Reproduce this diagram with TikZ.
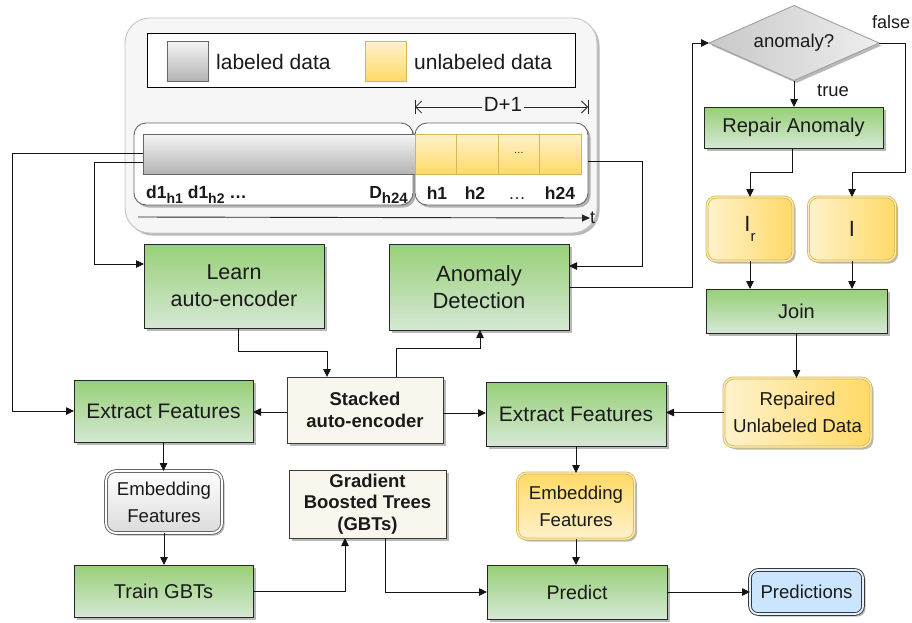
\documentclass[tikz,border=0pt]{standalone}
\usepackage{fontspec}
\setmainfont{Liberation Sans}
\usetikzlibrary{arrows.meta,shapes.geometric,shadows,calc}

\definecolor{txtc}{HTML}{1A1A1A}
\definecolor{grnT}{HTML}{97D077}
\definecolor{grnB}{HTML}{D5E8D4}
\definecolor{yelL}{HTML}{FFF2CC}
\definecolor{yelR}{HTML}{FFD966}
\definecolor{yelS}{HTML}{D6B656}
\definecolor{crmF}{HTML}{F9F7ED}
\definecolor{crmS}{HTML}{36393D}
\definecolor{bluF}{HTML}{CCE5FF}
\definecolor{gryT}{HTML}{F5F5F5}
\definecolor{gryB}{HTML}{B3B3B3}
\definecolor{gryS}{HTML}{666666}
\definecolor{contF}{HTML}{F6F6F6}
\definecolor{contS}{HTML}{C4C4C4}
\definecolor{diaL}{HTML}{C8C8C8}
\definecolor{diaR}{HTML}{EEEEEE}
\definecolor{diaS}{HTML}{A0A0A0}

\newcommand\setfs[2]{\fontsize{#1}{#2}\selectfont}
\newcommand\lsub[2][14]{\raisebox{-0.32em}{\setfs{#1}{#1}#2}}
\newcommand\lowsub[2][15]{\raisebox{-0.42em}{\setfs{#1}{#1}#2}}

\begin{document}
\begin{tikzpicture}[x=1pt,y=-1pt,
  shad/.style={drop shadow={shadow xshift=2.5pt,shadow yshift=-2.5pt,opacity=0.28,fill=black}},
  base/.style={inner sep=0pt, outer sep=0pt, align=center, text=txtc, line width=0.9pt},
  grnbox/.style={base, shad, draw=black!85, top color=grnT, bottom color=grnB},
  glass/.style={double=white!55!yelR, double distance=1.3pt, line width=0.8pt},
  yelbox/.style={base, shad, draw=yelS, rounded corners=9pt, left color=yelL, right color=yelR, glass},
  crmbox/.style={base, shad, draw=crmS, fill=crmF, font=\bfseries\setfs{18.5}{21.5}},
  inbox/.style={base, shad, draw=gryS, fill=white, rounded corners=12pt},
  graycell/.style={base, draw=gryS, line width=0.7pt, top color=gryT, bottom color=gryB},
  yelcell/.style={base, draw=yelS, line width=0.7pt, top color=yelL, bottom color=yelR},
  barlbl/.style={inner sep=0pt, anchor=base, text=txtc, font=\bfseries\setfs{17.5}{20}},
  arr/.style={line width=0.85pt, draw=black!92, -{Triangle[length=8pt,width=7.5pt]}},
]
\useasboundingbox (0,0) rectangle (912,622);

% ---- data panel ----
\node[base, shad, draw=contS, fill=contF, rounded corners=25pt,
      minimum width=472pt, minimum height=215pt] (panel) at (361,125.5) {};
\node[base, draw=black, fill=white, minimum width=428pt, minimum height=54pt] (legend) at (361,60) {};
\node[graycell, minimum width=41pt, minimum height=40pt] (lgray) at (187.5,61) {};
\node[inner sep=0pt, anchor=west, text=txtc, font=\setfs{21}{24}] (lgtxt) at (216,62) {labeled data};
\node[yelcell, minimum width=41pt, minimum height=40pt] (lyel) at (385.5,61) {};
\node[inner sep=0pt, anchor=west, text=txtc, font=\setfs{21}{24}] (lytxt) at (414,62) {unlabeled data};

\node[inbox, minimum width=279pt, minimum height=82pt] (lbox) at (273.5,164) {};
\node[inbox, minimum width=173pt, minimum height=82pt] (rbox) at (501.5,164) {};

\node[graycell, minimum width=272pt, minimum height=40pt] (lbar) at (279,154) {};
\node[yelcell, minimum width=41.5pt, minimum height=40pt] (c1) at (435.75,154) {};
\node[yelcell, minimum width=41.5pt, minimum height=40pt] (c2) at (477.25,154) {};
\node[yelcell, minimum width=41.5pt, minimum height=40pt, font=\setfs{10}{12}] (c3) at (518.75,154) {\raisebox{2pt}{…}};
\node[yelcell, minimum width=41.5pt, minimum height=40pt] (c4) at (560.25,154) {};

\node[barlbl, anchor=base west] (dl) at (146,198) {d1\lsub{h1} d1\lsub{h2} …};
\node[barlbl, anchor=base east] (dr) at (408,198) {D\lsub[15]{h24}};
\node[barlbl] (h1) at (437,199) {h1};
\node[barlbl] (h2) at (475,199) {h2};
\node[barlbl, font=\setfs{17.5}{20}] (hd) at (517,199) {…};
\node[barlbl] (h24) at (560,199) {h24};

% span of the forecast day
\coordinate (dimL) at (415,107);
\coordinate (dimR) at (588,107);
\draw[line width=0.8pt, black!85, {Straight Barb[length=6pt,width=12pt]}-{Straight Barb[length=6pt,width=12pt]}] (dimL) -- (dimR);
\draw[line width=0.8pt, black!85] (415,100) -- (415,114) (588,100) -- (588,114);
\node[inner sep=1.5pt, fill=contF, text=txtc, font=\setfs{20.5}{23}] (dimtxt) at (503,104) {D+1};

% time axis
\coordinate (tL) at (138,217);
\node[inner sep=0pt, anchor=west, text=txtc, font=\setfs{18}{20}] (tlbl) at (590,218) {t};
\draw[line width=0.9pt, black!85, -{Triangle[length=8pt,width=7pt]}] (tL) -- (tlbl.west);

% ---- process boxes ----
\node[grnbox, minimum width=180pt, minimum height=84pt, font=\setfs{21.5}{27}] (learn) at (234,286) {Learn\\auto-encoder};
\node[grnbox, minimum width=180pt, minimum height=86pt, font=\setfs{22}{27}] (ad) at (479,287) {Anomaly\\Detection};

\node[base, shad, diamond, aspect=2.27, draw=diaS, left color=diaL, right color=diaR,
      minimum width=170pt, minimum height=75pt, font=\setfs{18.6}{22}] (dia) at (794,43) {anomaly?};
\node[grnbox, minimum width=179pt, minimum height=41pt, font=\setfs{20}{24}] (repair) at (793.5,127.5) {Repair Anomaly};
\node[yelbox, minimum width=86pt, minimum height=64pt, font=\setfs{22}{26}] (ir) at (750,229) {I\lowsub{r}};
\node[yelbox, minimum width=87pt, minimum height=64pt, font=\setfs{22}{26}] (inr) at (852,229) {I};
\node[grnbox, minimum width=181pt, minimum height=44pt, font=\setfs{20}{24}] (join) at (796.5,311) {Join};
\node[yelbox, rounded corners=10pt, minimum width=147pt, minimum height=69pt, font=\setfs{18.7}{27}] (rep) at (797.5,412.5) {Repaired\\Unlabeled Data};

\node[crmbox, minimum width=156pt, minimum height=66pt] (stk) at (365,410) {Stacked\\auto-encoder};
\node[grnbox, minimum width=179pt, minimum height=62pt, font=\setfs{21}{24}] (extL) at (163.5,411) {Extract Features};
\node[grnbox, minimum width=180pt, minimum height=64pt, font=\setfs{21}{24}] (extR) at (576,414) {Extract Features};

\node[base, shad, draw=gryS, rounded corners=10pt, top color=white, bottom color=black!14,
      double=white, double distance=1.8pt, minimum width=116pt, minimum height=62pt,
      font=\setfs{18.6}{27}] (embL) at (164,502) {Embedding\\Features};
\node[crmbox, minimum width=157pt, minimum height=68pt] (gbt) at (367.5,504) {Gradient\\Boosted Trees\\(GBTs)};
\node[base, shad, draw=yelS, rounded corners=9pt, top color=yelR, bottom color=yelL, glass,
      minimum width=117pt, minimum height=66pt, font=\setfs{18.6}{27}] (embR) at (576,506) {Embedding\\Features};

\node[grnbox, minimum width=179pt, minimum height=52pt, font=\setfs{20}{24}] (train) at (163.5,591) {Train GBTs};
\node[grnbox, minimum width=180pt, minimum height=54pt, font=\setfs{19.6}{24}] (predict) at (577,592) {Predict};
\node[base, shad, draw=crmS, rounded corners=8pt, fill=bluF, double=bluF!55!white, double distance=1.8pt,
      minimum width=113pt, minimum height=44pt, font=\setfs{18.6}{22}] (preds) at (806.5,592) {Predictions};

% ---- connectors ----
\draw[arr] (lbar.west |- 0,153) -- (12,153) |- (extL.west);
\draw[arr] (lbar.west |- 0,162) -- (94,162) |- (learn.west |- 0,264);
\draw[arr] (rbox.east |- 0,161) -- (642,161) |- (ad.east |- 0,266);
\draw[arr] (ad.east |- 0,287) -- (692,287) |- (dia.west);

\draw[arr] (dia.south) -- (dia.south |- repair.north);
\node[inner sep=0pt, text=txtc, font=\setfs{18.4}{20}] (truelbl) at (833,91) {true};
\draw[arr] (dia.east) -| (905,172) -| (inr.north);
\node[inner sep=0pt, text=txtc, font=\setfs{18}{20}] (falselbl) at (891,22) {false};
\draw[arr] ([xshift=-1.5pt]repair.south) -- ++(0,24) -| (ir.north);

\draw[arr] (ir.south) -- (ir.south |- join.north);
\draw[arr] (inr.south) -- (inr.south |- join.north);
\draw[arr] (join.south) -- (join.south |- rep.north);
\draw[arr] (rep.west) -- (rep.west -| extR.east);
\draw[arr] (stk.east |- 0,413) -- (extR.west |- 0,413);
\draw[arr] (stk.west |- 0,412) -- (extL.east |- 0,412);

\draw[arr] ([xshift=4pt]learn.south) -- ++(0,23) -| ([xshift=-38pt]stk.north);
\draw[arr] ([xshift=31pt]stk.north) -- ++(0,-29) -| ([xshift=1pt]ad.south);

\draw[arr] (extL.south) -- (extL.south |- embL.north);
\draw[arr] (embL.south) -- (embL.south |- train.north);
\draw[arr] (train.east) -| ([xshift=-22.5pt]gbt.south);
\draw[arr] ([xshift=17.5pt]gbt.south) |- (predict.west);

\draw[arr] (extR.south) -- (extR.south |- embR.north);
\draw[arr] (embR.south) -- (embR.south |- predict.north);
\draw[arr] (predict.east) -- (preds.west);
\end{tikzpicture}
\end{document}
